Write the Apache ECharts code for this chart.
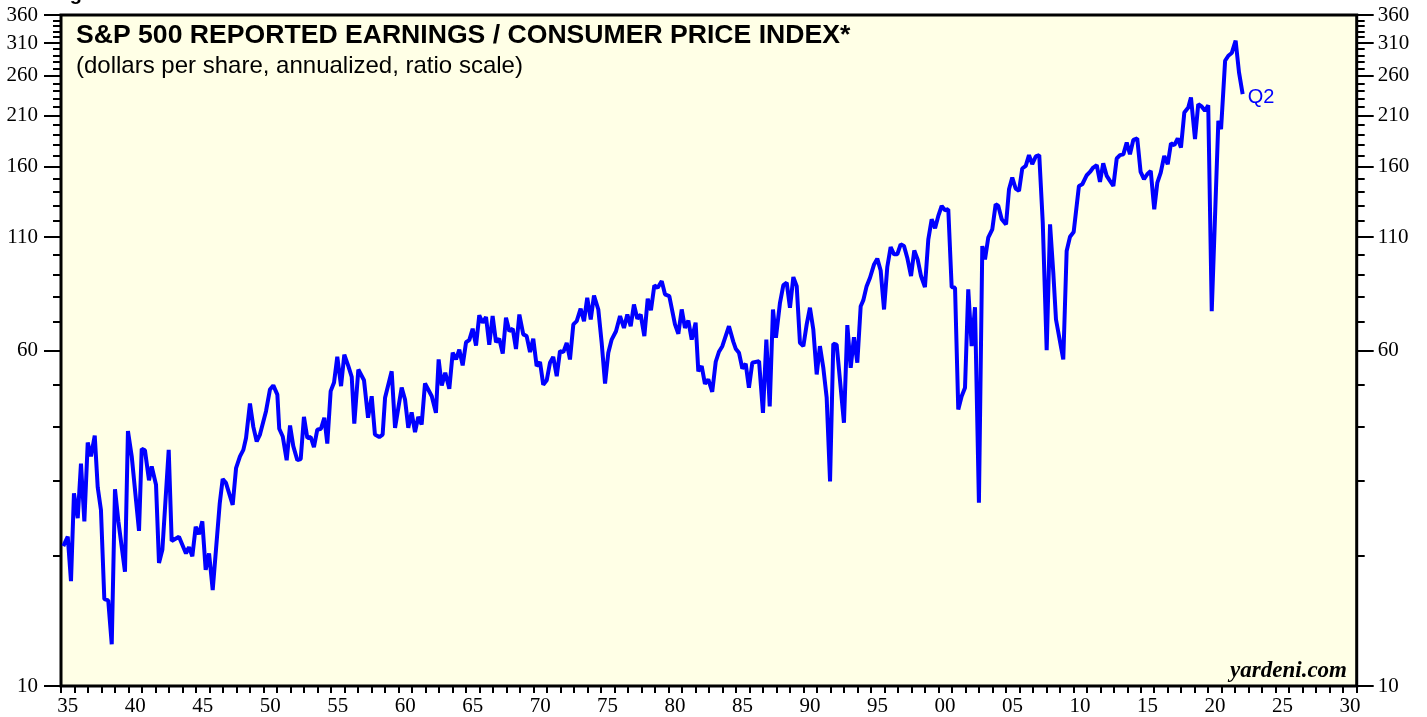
<!DOCTYPE html>
<html lang="en">
<head>
<meta charset="UTF-8">
<title>S&amp;P 500 Reported Earnings / CPI</title>
<script src="https://cdn.jsdelivr.net/npm/echarts@6/dist/echarts.min.js"></script>
<style>
    html, body { margin: 0; padding: 0; background: #fff; }
    #main { width: 1427px; height: 717px; }
</style>
</head>
<body>
<div id="main"></div>
<script type="text/javascript">
// quarterly points (decimal year, dollars per share / CPI)
var years = [
    1935.17, 1935.50, 1935.74, 1935.96, 1936.24, 1936.48, 1936.73, 1936.98, 1937.22, 1937.50,
    1937.72, 1937.96, 1938.21, 1938.50, 1938.76, 1939.00, 1939.25, 1939.74, 1939.96, 1940.24,
    1940.78, 1940.98, 1941.22, 1941.52, 1941.72, 1942.04, 1942.26, 1942.51, 1942.98, 1943.20,
    1943.74, 1944.26, 1944.48, 1944.73, 1944.98, 1945.22, 1945.47, 1945.72, 1945.97, 1946.24,
    1946.76, 1946.98, 1947.22, 1947.72, 1947.97, 1948.26, 1948.51, 1948.71, 1949.00, 1949.25,
    1949.50, 1949.74, 1950.19, 1950.48, 1950.73, 1951.03, 1951.17, 1951.43, 1951.72, 1951.97,
    1952.21, 1952.51, 1952.76, 1953.00, 1953.25, 1953.50, 1953.74, 1953.99, 1954.26, 1954.51,
    1954.73, 1954.98, 1955.23, 1955.47, 1955.75, 1955.99, 1956.29, 1956.54, 1956.73, 1957.03,
    1957.45, 1957.75, 1958.02, 1958.26, 1958.58, 1958.83, 1959.01, 1959.50, 1959.75, 1960.24,
    1960.49, 1960.73, 1960.98, 1961.23, 1961.47, 1961.72, 1961.97, 1962.47, 1962.78, 1962.98,
    1963.21, 1963.47, 1963.77, 1964.02, 1964.27, 1964.51, 1964.76, 1965.01, 1965.25, 1965.50,
    1965.75, 1965.99, 1966.24, 1966.49, 1966.73, 1966.98, 1967.23, 1967.47, 1967.73, 1967.97,
    1968.22, 1968.47, 1968.71, 1968.96, 1969.25, 1969.50, 1969.75, 1969.99, 1970.24, 1970.49,
    1970.73, 1970.99, 1971.23, 1971.47, 1971.73, 1971.97, 1972.22, 1972.47, 1972.71, 1972.96,
    1973.21, 1973.50, 1973.75, 1973.99, 1974.25, 1974.49, 1974.81, 1975.06, 1975.31, 1975.55,
    1975.80, 1976.12, 1976.42, 1976.71, 1976.96, 1977.21, 1977.45, 1977.70, 1977.95, 1978.22,
    1978.47, 1978.71, 1978.96, 1979.21, 1979.51, 1979.75, 1980.07, 1980.49, 1980.74, 1980.99,
    1981.23, 1981.48, 1981.73, 1982.02, 1982.22, 1982.47, 1982.71, 1982.96, 1983.25, 1983.51,
    1983.75, 1984.00, 1984.49, 1984.81, 1984.99, 1985.23, 1985.48, 1985.73, 1985.97, 1986.22,
    1986.72, 1987.01, 1987.26, 1987.51, 1987.75, 1987.97, 1988.27, 1988.52, 1988.77, 1989.01,
    1989.26, 1989.51, 1989.75, 1990.00, 1990.25, 1990.49, 1990.74, 1990.99, 1991.23, 1991.48,
    1991.73, 1991.98, 1992.22, 1992.47, 1993.01, 1993.26, 1993.51, 1993.75, 1994.00, 1994.25,
    1994.44, 1994.69, 1994.94, 1995.24, 1995.48, 1995.73, 1995.98, 1996.22, 1996.47, 1996.72,
    1996.96, 1997.21, 1997.46, 1997.70, 1997.98, 1998.22, 1998.47, 1998.72, 1999.01, 1999.26,
    1999.51, 1999.76, 2000.00, 2000.25, 2000.50, 2000.74, 2000.99, 2001.24, 2001.48, 2001.73,
    2001.98, 2002.22, 2002.47, 2002.72, 2003.01, 2003.26, 2003.46, 2003.70, 2004.00, 2004.25,
    2004.44, 2004.70, 2005.02, 2005.24, 2005.48, 2005.73, 2005.98, 2006.22, 2006.48, 2006.72,
    2006.96, 2007.22, 2007.48, 2007.74, 2008.03, 2008.28, 2008.52, 2008.72, 2009.26, 2009.51,
    2009.76, 2010.03, 2010.42, 2010.67, 2011.00, 2011.24, 2011.48, 2011.74, 2011.98, 2012.22,
    2012.48, 2012.72, 2012.97, 2013.22, 2013.46, 2013.71, 2013.96, 2014.20, 2014.45, 2014.74,
    2014.99, 2015.24, 2015.48, 2015.74, 2016.00, 2016.23, 2016.48, 2016.74, 2017.00, 2017.24,
    2017.49, 2017.74, 2017.98, 2018.23, 2018.52, 2018.72, 2019.02, 2019.26, 2019.51, 2019.76,
    2020.00, 2020.26, 2020.75, 2020.95, 2021.25, 2021.49, 2021.74, 2022.03, 2022.28, 2022.55
];
var earnings = [
    21.1, 22.2, 17.5, 28.0, 24.5, 32.8, 24.1, 36.7, 34.1, 38.1,
    28.9, 25.6, 15.9, 15.8, 12.5, 28.6, 24.1, 18.4, 39.0, 34.1,
    22.9, 35.5, 35.2, 30.0, 32.3, 29.3, 19.3, 20.7, 35.3, 21.7,
    22.2, 20.3, 21.0, 20.0, 23.4, 22.5, 24.1, 18.6, 20.3, 16.7,
    26.5, 30.2, 29.6, 26.3, 32.0, 34.1, 35.3, 37.6, 45.2, 39.9,
    36.9, 38.3, 43.4, 48.7, 49.8, 47.4, 39.5, 37.9, 33.4, 40.2,
    36.0, 33.4, 33.6, 42.1, 37.6, 37.8, 35.8, 39.3, 39.5, 41.9,
    36.5, 48.3, 50.6, 58.0, 49.6, 58.7, 55.2, 52.1, 40.6, 54.2,
    51.2, 41.9, 47.0, 38.3, 37.8, 38.3, 46.6, 53.7, 39.7, 49.2,
    46.2, 39.7, 43.1, 38.8, 42.1, 40.4, 50.3, 47.0, 43.0, 57.2,
    49.8, 53.3, 48.9, 59.3, 57.2, 60.3, 55.4, 62.7, 63.4, 67.4,
    61.6, 72.4, 69.6, 71.8, 61.9, 72.1, 62.7, 63.9, 59.0, 71.5,
    66.5, 67.4, 60.5, 72.7, 65.4, 64.8, 59.5, 63.9, 55.2, 56.4,
    50.0, 51.2, 56.2, 58.0, 52.3, 59.8, 59.5, 62.5, 57.2, 69.0,
    70.2, 75.0, 70.2, 79.5, 70.8, 80.5, 74.7, 62.5, 50.3, 59.3,
    63.6, 66.5, 72.1, 67.7, 72.7, 68.3, 76.7, 71.1, 72.7, 64.8,
    79.1, 74.4, 84.9, 83.9, 86.9, 81.0, 80.2, 69.0, 65.6, 74.7,
    67.7, 70.4, 63.6, 69.6, 53.7, 55.2, 50.2, 51.4, 48.1, 56.5,
    59.6, 61.4, 68.3, 62.9, 60.6, 59.3, 54.5, 55.9, 49.2, 56.2,
    56.7, 43.0, 63.6, 44.5, 74.7, 64.2, 77.4, 85.1, 86.2, 75.4,
    88.8, 84.6, 62.5, 61.4, 69.0, 75.4, 67.1, 52.8, 61.4, 54.7,
    46.6, 29.8, 62.2, 61.9, 40.8, 68.7, 54.7, 64.4, 56.2, 76.0,
    78.4, 84.6, 88.5, 95.0, 98.0, 92.0, 74.7, 93.7, 104.3, 100.3,
    100.3, 105.8, 104.8, 98.5, 89.3, 102.4, 97.6, 89.3, 84.2, 108.6,
    120.9, 115.2, 123.1, 129.8, 126.9, 127.6, 84.2, 83.9, 43.8, 47.0,
    49.2, 83.2, 61.4, 75.6, 26.6, 104.8, 97.6, 109.6, 114.6, 131.0,
    130.0, 120.9, 117.7, 142.0, 151.1, 142.5, 140.7, 158.6, 160.8, 170.3,
    162.3, 169.1, 170.3, 118.8, 60.1, 117.7, 90.9, 70.8, 57.2, 102.1,
    110.2, 113.0, 144.5, 145.8, 153.0, 155.7, 159.4, 161.4, 147.6, 163.1,
    152.4, 148.4, 144.5, 167.3, 170.3, 171.0, 182.2, 171.2, 184.8, 186.2,
    155.7, 149.8, 153.8, 156.6, 127.6, 147.1, 155.2, 169.6, 162.3, 181.5,
    179.6, 186.2, 177.4, 214.0, 219.7, 231.8, 185.5, 223.6, 220.9, 215.8,
    222.4, 74.0, 204.6, 195.7, 281.9, 289.6, 293.8, 313.8, 265.0, 235.9
];
var xLabelYears = [1935, 1940, 1945, 1950, 1955, 1960, 1965, 1970, 1975, 1980,
    1985, 1990, 1995, 2000, 2005, 2010, 2015, 2020, 2025, 2030];
var yLabelValues = [10, 60, 110, 160, 210, 260, 310, 360];
var yTickValues = [10, 20, 30, 40, 50, 60, 70, 80, 90, 100, 110, 120, 130, 140, 150, 160, 170, 180,
    190, 200, 210, 220, 230, 240, 250, 260, 270, 280, 290, 300, 310, 320, 330, 340, 350, 360];
var lastLabel = 'Q2';

var seriesData = years.map(function (y, i) { return [y, earnings[i]]; });

var serif = '"Liberation Serif", "Times New Roman", serif';
var sans = '"Liberation Sans", Arial, sans-serif';

// two axes per side: short minor ticks every 10, long major ticks with labels
function makeYAxis(pos, major) {
    return {
        type: 'log', logBase: 10, min: 10, max: 360, position: pos,
        axisLine: {show: false},
        splitLine: {show: false},
        minorTick: {show: false},
        axisTick: {show: true, customValues: major ? yLabelValues : yTickValues,
            length: major ? 17 : 8, lineStyle: {color: '#000', width: 2}},
        axisLabel: major ? {show: true, customValues: yLabelValues, margin: pos === 'left' ? 23 : 21,
            fontFamily: serif, fontSize: 21, color: '#000'} : {show: false}
    };
}

var myChart = echarts.init(document.getElementById('main'));
var option = {
    animation: false,
    grid: {left: 61, right: 70.3, top: 15, bottom: 30.5, show: true,
        backgroundColor: '#FFFFE6', borderColor: '#000', borderWidth: 3},
    xAxis: {
        type: 'value', min: 1935, max: 2031, interval: 1,
        axisLine: {show: false},
        splitLine: {show: false},
        axisTick: {show: true, length: 7, lineStyle: {color: '#000', width: 2}},
        axisLabel: {
            customValues: xLabelYears.map(function (y) { return y + 0.5; }),
            formatter: function (v) { var s = String(Math.floor(v) % 100); return s.length < 2 ? '0' + s : s; },
            margin: 10, fontFamily: serif, fontSize: 21, color: '#000'
        }
    },
    yAxis: [makeYAxis('left', false), makeYAxis('left', true), makeYAxis('right', false), makeYAxis('right', true)],
    series: [{
        type: 'line', data: seriesData, yAxisIndex: 1,
        symbol: 'none', silent: true,
        lineStyle: {color: '#0000FF', width: 4},
        itemStyle: {color: '#0000FF'},
        endLabel: {show: true, formatter: lastLabel, color: '#0000FF', fontSize: 20,
            fontFamily: sans, distance: 5, offset: [0, 3]}
    }],
    graphic: [
        {type: 'text', left: 52, top: -16, style: {text: 'Figure', font: 'bold 20px ' + sans, fill: '#000'}},
        {type: 'text', left: 76, top: 22, style: {text: 'S&P 500 REPORTED EARNINGS / CONSUMER PRICE INDEX*',
            font: 'bold 26.6px ' + sans, fill: '#000'}},
        {type: 'text', left: 76, top: 54, style: {text: '(dollars per share, annualized, ratio scale)',
            font: '24px ' + sans, fill: '#000'}},
        {type: 'text', right: 80, bottom: 34, style: {text: 'yardeni.com',
            font: 'italic bold 23px ' + serif, fill: '#000'}}
    ]
};
myChart.setOption(option);
</script>
</body>
</html>
